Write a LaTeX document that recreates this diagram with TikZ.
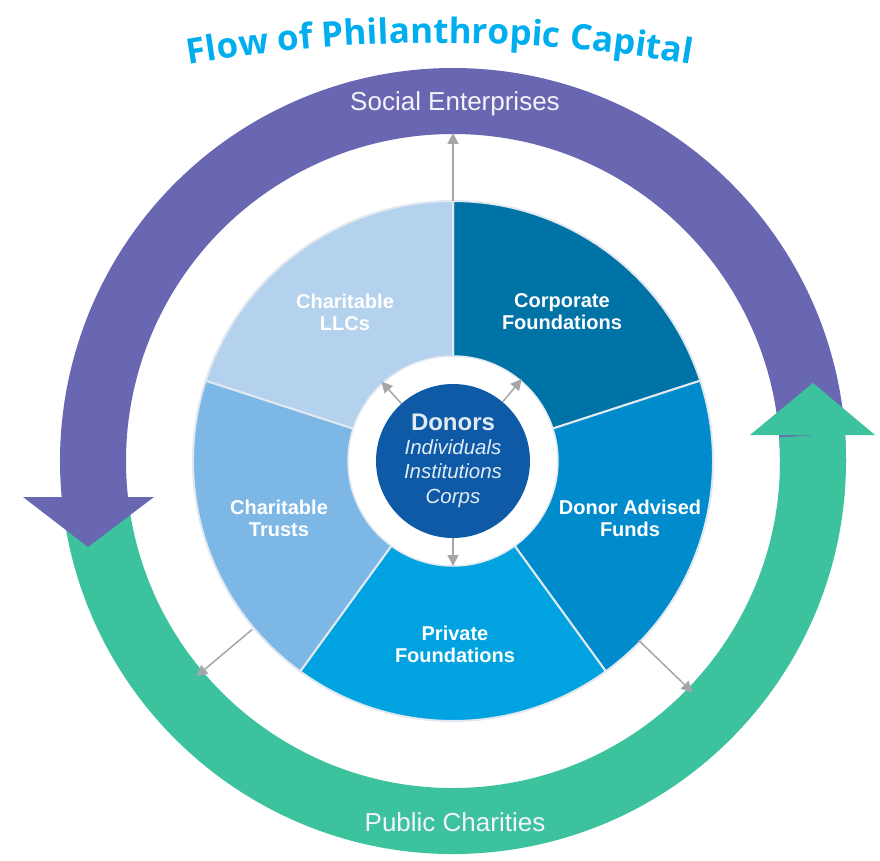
\documentclass[tikz,border=0pt]{standalone}
\usepackage{fontspec}
\setmainfont{Liberation Sans}
\newfontfamily\titlefont{Open Sans}
\usetikzlibrary{decorations.text,arrows.meta}

\definecolor{purpleband}{RGB}{106,103,178}
\definecolor{greenband}{RGB}{60,195,158}
\definecolor{llcblue}{RGB}{180,210,238}
\definecolor{corpblue}{RGB}{0,115,166}
\definecolor{dafblue}{RGB}{0,140,204}
\definecolor{privblue}{RGB}{0,163,224}
\definecolor{trustblue}{RGB}{125,183,230}
\definecolor{donorblue}{RGB}{14,90,166}
\definecolor{titlecyan}{RGB}{0,174,239}
\definecolor{arrowgray}{RGB}{165,165,170}
\definecolor{sectorline}{RGB}{225,232,240}

\tikzset{
  sector/.style={draw=sectorline, line width=2pt, line join=round},
  seclabel/.style={text=white, align=center, font=\bfseries\fontsize{20}{22}\selectfont},
  bandlabel/.style={text=white!92!purpleband, font=\fontsize{26}{28}\selectfont},
  flowarrow/.style={draw=arrowgray, line width=1.5pt, -{Triangle[length=11pt,width=11pt]}},
}

\begin{document}
\begin{tikzpicture}[x=1pt,y=1pt]
   \useasboundingbox (-453,-399) rectangle (427,461);
   % title on an arc
   \path[decorate, decoration={text along path, text align=center, text color=titlecyan,
         text={|\titlefont\fontsize{35}{35}\selectfont\bfseries|Flow of Philanthropic Capital}}]
         [shift={(-13,-1082)}] (105:1500) arc (105:75:1500);
   % outer circular arrows
   \draw[purpleband, line width=66pt] (-2:360) arc (-2:187:360);
   \draw[greenband, line width=66pt] (187:360) arc (187:364.1:360);
   \fill[greenband] (297,26) -- (422,26) -- (360,78) -- cycle;
   \fill[purpleband] (-430,-36) -- (-299,-36) -- (-365,-86) -- cycle;
   \node[bandlabel] (social) at (2,357) {Social Enterprises};
   \node[bandlabel] (public) at (2,-361) {Public Charities};
   % pie of vehicles
   \foreach \a/\b/\c in {18/90/corpblue, -54/18/dafblue, -126/-54/privblue,
                         -198/-126/trustblue, -270/-198/llcblue}
      \draw[sector, fill=\c] (0,0) -- (\a:260) arc (\a:\b:260) -- cycle;
   \node[seclabel] (llc) at (-108,149) {Charitable\\LLCs};
   \node[seclabel] (corp) at (109,149) {Corporate\\Foundations};
   \node[seclabel] (daf) at (177,-57) {Donor Advised\\Funds};
   \node[seclabel] (trust) at (-174,-57) {Charitable\\Trusts};
   \node[seclabel] (priv) at (2,-183) {Private\\Foundations};
   % donors in the middle
   \draw[fill=white, draw=sectorline, line width=1.5pt] (0,0) circle (105);
   \node[circle, fill=donorblue, minimum size=154pt, inner sep=0pt, align=center,
         text=white!88!donorblue, font=\fontsize{20.5}{24.5}\selectfont] (donors) at (0,0)
         {{\bfseries\fontsize{24}{26}\selectfont Donors}\\[-1pt]\itshape Individuals\\\itshape Institutions\\\itshape Corps};
   % arrows out of the donors
   \coordinate (toLLC) at (132:107);
   \coordinate (toCorp) at (50:107);
   \coordinate (toPriv) at (-90:105);
   \draw[flowarrow] (donors.132) -- (toLLC);
   \draw[flowarrow] (donors.50) -- (toCorp);
   \draw[flowarrow] (donors.-90) -- (toPriv);
   % arrows out to the bands
   \coordinate (pieTop) at (90:260);
   \coordinate (pieLeft) at (220:262);
   \coordinate (pieRight) at (-44:258);
   \coordinate (toSocial) at (90:328);
   \coordinate (toPublicL) at (220:335);
   \coordinate (toPublicR) at (-44:333);
   \draw[flowarrow] (pieTop) -- (toSocial);
   \draw[flowarrow] (pieLeft) -- (toPublicL);
   \draw[flowarrow] (pieRight) -- (toPublicR);
\end{tikzpicture}
\end{document}
